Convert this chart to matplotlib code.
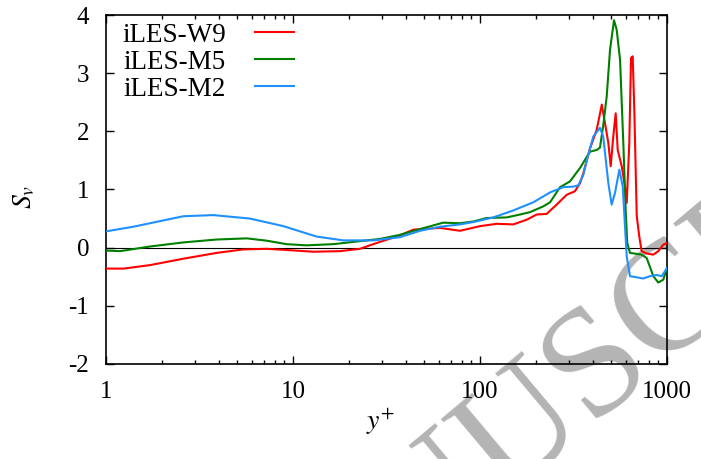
import matplotlib
matplotlib.use("Agg")
import matplotlib.pyplot as plt
from matplotlib.ticker import FixedLocator, FixedFormatter, LogLocator, NullFormatter

plt.rcParams['font.family'] = ['Liberation Serif', 'DejaVu Serif']
plt.rcParams['mathtext.fontset'] = 'stix'
plt.rcParams['axes.unicode_minus'] = False

# iLES-W9
w9_yp = [1.0, 1.24, 1.72, 2.59, 3.91, 5.42, 7.23, 9.25, 12.8, 17.8, 22.8, 29.2, 37.3,
         44.0, 61.1, 78.2, 100, 122.9, 150.7, 177.7, 201, 227, 257, 291, 322, 342.6,
         357, 387, 421, 448, 466, 485.6, 500, 516, 531.7, 545, 572.5, 596, 609, 628.6,
         642, 655.5, 668.6, 689, 711, 732, 779, 845, 898, 955, 1000]
w9_sv = [-0.36, -0.36, -0.30, -0.19, -0.09, -0.03, -0.02, -0.04, -0.07, -0.06, -0.02,
         0.10, 0.21, 0.31, 0.34, 0.29, 0.37, 0.41, 0.40, 0.48, 0.57, 0.58, 0.74, 0.91,
         0.97, 1.11, 1.28, 1.70, 2.03, 2.46, 2.14, 1.80, 1.40, 1.91, 2.31, 1.68, 1.40,
         1.05, 0.77, 1.80, 3.26, 3.29, 2.37, 0.54, 0.19, -0.06, -0.10, -0.12, -0.06,
         0.05, 0.08]

# iLES-M5
m5_yp = [1.0, 1.19, 1.72, 2.59, 3.91, 5.66, 7.23, 9.25, 11.8, 16.4, 24.8, 29.2, 37.3,
         47.8, 63.6, 78.2, 92.1, 108.6, 138.9, 163.7, 185, 218, 237, 268, 303, 342.6,
         387, 421, 438, 456, 476, 495.8, 520.6, 538, 561, 584, 601, 613, 634, 732, 779,
         845, 898, 955, 1000]
m5_sv = [-0.05, -0.06, 0.02, 0.09, 0.14, 0.16, 0.12, 0.06, 0.04, 0.06, 0.125, 0.15,
         0.22, 0.32, 0.43, 0.42, 0.45, 0.51, 0.52, 0.57, 0.61, 0.71, 0.78, 1.04, 1.14,
         1.37, 1.65, 1.68, 1.72, 2.1, 2.6, 3.4, 3.91, 3.75, 3.23, 1.8, 0.65, 0.08,
         -0.09, -0.12, -0.18, -0.49, -0.6, -0.55, -0.35]

# iLES-M2
m2_yp = [1.0, 1.40, 2.59, 3.75, 5.89, 8.88, 13.4, 18.6, 26.9, 37.3, 47.8, 61.1, 78.2,
         92.1, 117.8, 150.7, 192.8, 237, 279, 316, 335.5, 357, 372, 403.6, 438, 456,
         485.6, 506, 527, 556, 580, 596, 609, 634, 689, 747, 811, 881, 937, 1000]
m2_sv = [0.28, 0.36, 0.54, 0.56, 0.50, 0.37, 0.19, 0.125, 0.125, 0.18, 0.29, 0.36,
         0.40, 0.44, 0.52, 0.64, 0.78, 0.95, 1.04, 1.05, 1.07, 1.25, 1.5, 1.91, 2.06,
         1.91, 1.11, 0.74, 0.94, 1.34, 1.05, 0.37, -0.15, -0.49, -0.51, -0.53, -0.49,
         -0.47, -0.49, -0.35]

series = [("iLES-W9", w9_yp, w9_sv, "#ff0000"),
          ("iLES-M5", m5_yp, m5_sv, "#008000"),
          ("iLES-M2", m2_yp, m2_sv, "#1e90ff")]

xticks = [1, 10, 100, 1000]
xticklabels = ["1", "10", "100", "1000"]
yticks = [-2, -1, 0, 1, 2, 3, 4]

fig = plt.figure(figsize=(7.01, 4.59), dpi=100)
ax = fig.add_axes([0.1512, 0.2070, 0.8003, 0.7603])
ax.patch.set_alpha(0)

ax.axhline(0, color="black", lw=0.8, zorder=1)
for name, xs, ys, col in series:
    ax.plot(xs, ys, color=col, lw=1.5, label=name, zorder=3)

ax.set_xscale("log")
ax.set_xlim(1, 1000)
ax.set_ylim(-2, 4)
ax.xaxis.set_major_locator(FixedLocator(xticks))
ax.xaxis.set_major_formatter(FixedFormatter(xticklabels))
ax.xaxis.set_minor_locator(LogLocator(base=10, subs=range(2, 10)))
ax.xaxis.set_minor_formatter(NullFormatter())
ax.set_yticks(yticks)
ax.set_yticklabels([str(v) for v in yticks])

ax.tick_params(which="both", direction="in", top=True, right=True, labelsize=18)
ax.tick_params(which="major", length=6, width=1)
ax.tick_params(which="minor", length=3, width=1)
ax.tick_params(axis="x", pad=12)
ax.tick_params(axis="y", pad=12)
for s in ax.spines.values():
    s.set_linewidth(1.2)

ax.set_xlabel(r"$y^{+}$", fontsize=20)
ax.xaxis.set_label_coords(0.49, -0.12)
ax.set_ylabel(r"$S_{v}$", fontsize=20)
ax.yaxis.set_label_coords(-0.123, 0.478)

ax.legend(loc="upper left", frameon=False, markerfirst=False, fontsize=19.5,
          handlelength=1.44, handletextpad=1.07, labelspacing=0.08,
          borderaxespad=0.2, bbox_to_anchor=(0.0, 1.025))

# journal watermark, partly outside the figure
fig.text(0.322, -0.59, "MANUSCRIPT", fontsize=112, color="#b4b4b4",
         rotation=40, rotation_mode="anchor", ha="left", va="baseline",
         family="Liberation Serif", zorder=-1)

fig.savefig("out.png", dpi=100)
